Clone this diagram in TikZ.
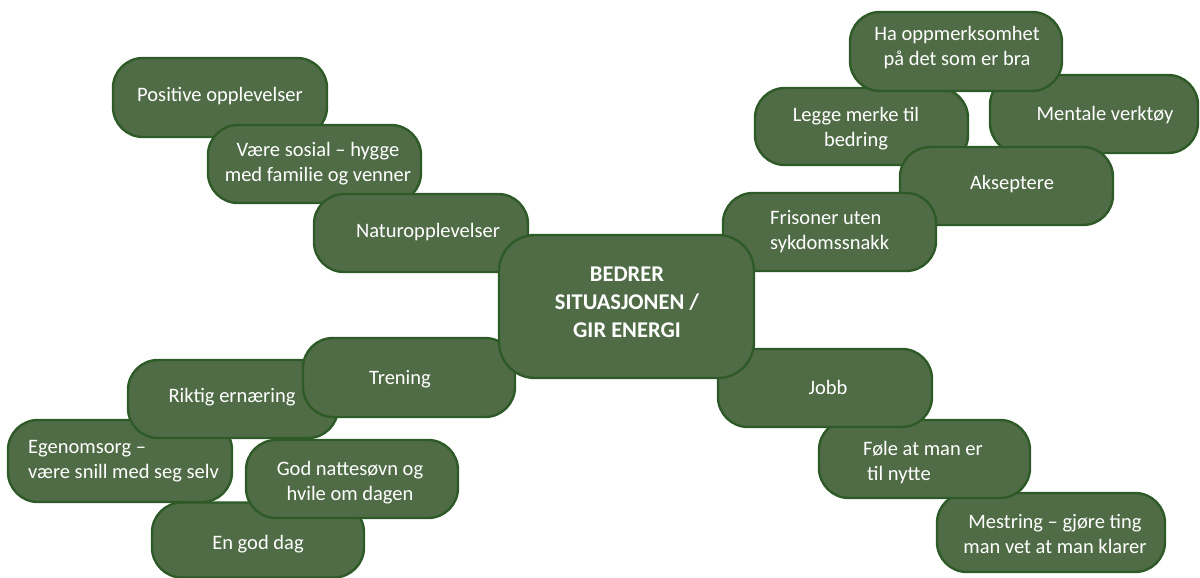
\documentclass[tikz,border=0pt]{standalone}
\usepackage{fontspec}
\setmainfont{Carlito}
\definecolor{boxfill}{HTML}{506C46}
\definecolor{boxline}{HTML}{2E5A28}
\begin{document}
\begin{tikzpicture}[x=1pt,y=-1pt,
  box/.style={draw=boxline, fill=boxfill, line width=2.4pt, rounded corners=30pt, inner sep=0pt},
  txt/.style={text=white, font=\fontsize{20.5}{25}\selectfont, align=center, inner sep=0pt},
  txtl/.style={txt, align=left},
  hub/.style={box, rounded corners=36pt},
  hubtxt/.style={text=white, font=\fontsize{22.5}{28}\selectfont\bfseries, align=center, inner sep=0pt}]
\useasboundingbox[fill=white] (0,0) rectangle (1200,578);

% left group, drawn back to front
\node[box, minimum width=214pt, minimum height=79pt] (pos) at (220,97.5) {};
\node[txt] (pos-t) at (220,96) {Positive opplevelser};
\node[box, minimum width=213pt, minimum height=78pt] (sos) at (314.5,164) {};
\node[txt] (sos-t) at (318,164) {Være sosial – hygge\\med familie og venner};
\node[box, minimum width=214pt, minimum height=78pt] (nat) at (421,233) {};
\node[txt] (nat-t) at (428,232) {Naturopplevelser};

\node[box, minimum width=212pt, minimum height=75pt] (dag) at (258,540) {};
\node[txt] (dag-t) at (258,544) {En god dag};
\node[box, minimum width=224pt, minimum height=82pt] (ego) at (120,461) {};
\node[txtl, anchor=west] (ego-t) at (28,461) {Egenomsorg –\\være snill med seg selv};
\node[box, minimum width=212pt, minimum height=78pt] (natt) at (352,479) {};
\node[txt] (natt-t) at (350,483) {God nattesøvn og\\hvile om dagen};
\node[box, minimum width=210pt, minimum height=78pt] (rikt) at (233,399) {};
\node[txt] (rikt-t) at (232,397) {Riktig ernæring};
\node[box, minimum width=212pt, minimum height=79pt] (tren) at (409,377.5) {};
\node[txt] (tren-t) at (400,379) {Trening};

% right group, drawn back to front
\node[box, minimum width=228pt, minimum height=79pt] (mest) at (1051,532.5) {};
\node[txt] (mest-t) at (1055,534) {Mestring – gjøre ting\\man vet at man klarer};
\node[box, minimum width=211pt, minimum height=78pt] (fole) at (924.5,459) {};
\node[txtl] (fole-t) at (923,463) {Føle at man er\\\hspace*{4pt}til nytte};
\node[box, minimum width=214pt, minimum height=78pt] (jobb) at (825,388) {};
\node[txt] (jobb-t) at (828,387) {Jobb};

\node[box, minimum width=213pt, minimum height=77pt] (legge) at (861.5,126.5) {};
\node[txt] (legge-t) at (856,129) {Legge merke til\\bedring};
\node[box, minimum width=208pt, minimum height=78pt] (ment) at (1094,114) {};
\node[txt] (ment-t) at (1105,115) {Mentale verktøy};
\node[box, minimum width=212pt, minimum height=79pt] (ha) at (956,51.5) {};
\node[txt] (ha-t) at (957,48) {Ha oppmerksomhet\\på det som er bra};
\node[box, minimum width=213pt, minimum height=78pt] (aks) at (1006.5,186) {};
\node[txt] (aks-t) at (1012,184) {Akseptere};
\node[box, minimum width=213pt, minimum height=78pt] (fri) at (829.5,232) {};
\node[txtl, anchor=west] (fri-t) at (770,232) {Frisoner uten\\sykdomssnakk};

% central topic on top of everything
\node[hub, minimum width=255pt, minimum height=143pt] (hubbox) at (626.5,306.5) {};
\node[hubtxt] (hub-t) at (627,302) {BEDRER\\SITUASJONEN /\\GIR ENERGI};
\end{tikzpicture}
\end{document}
